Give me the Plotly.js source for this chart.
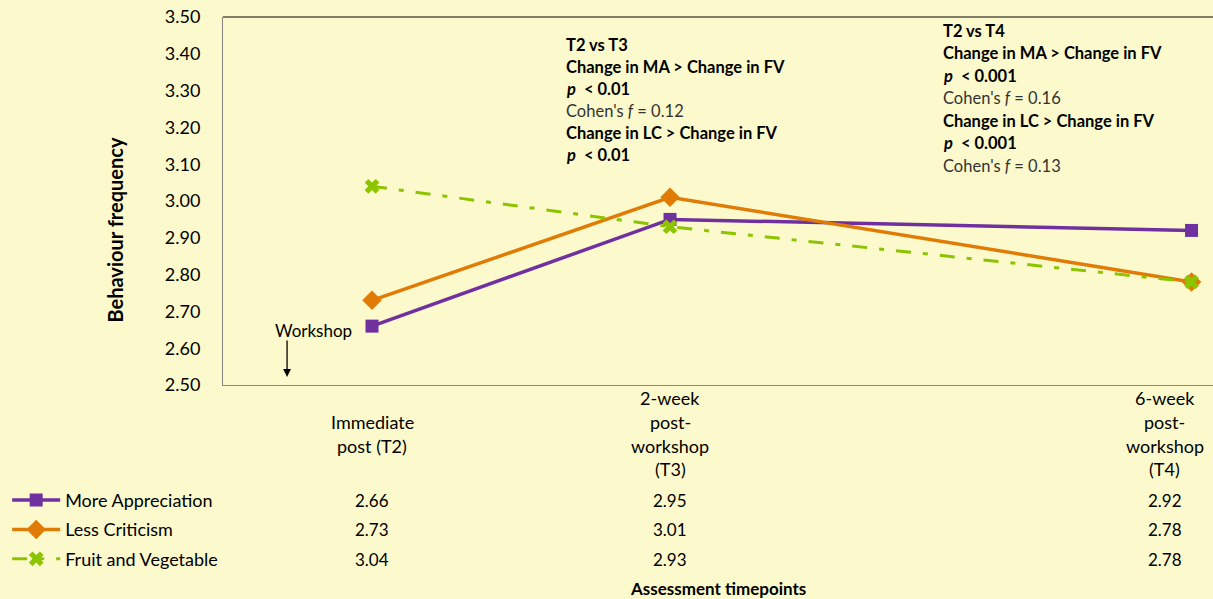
<!DOCTYPE html>
<html>
<head>
<meta charset="utf-8">
<script src="https://cdn.plot.ly/plotly-3.0.1.min.js"></script>
<style>
  html, body { margin: 0; padding: 0; background: #FCFACC; }
  #chart { width: 1213px; height: 599px; }
</style>
</head>
<body>
<div id="chart"></div>
<script>
// timepoints (x position reflects spacing in the original figure)
const timepoints = ['Immediate post (T2)', '2-week post-workshop (T3)', '6-week post-workshop (T4)'];
const timeLabels = [['Immediate', 'post (T2)'], ['2-week', 'post-', 'workshop', '(T3)'], ['6-week', 'post-', 'workshop', '(T4)']];
const xPos = [0, 1, 2.75];
// the data table's last column is pulled in to fit the figure edge
const tableCols = [0, 1, 2.66];

const seriesNames = ['More Appreciation', 'Less Criticism', 'Fruit and Vegetable'];
const moreAppreciation = [2.66, 2.95, 2.92];
const lessCriticism = [2.73, 3.01, 2.78];
const fruitVeg = [3.04, 2.93, 2.78];

const noteT3 = [
    '<b>T2 vs T3</b>',
    '<b>Change in MA &gt; Change in FV</b>',
    '<b><i>p</i>&nbsp; &lt; 0.01</b>',
    "Cohen's <i>f</i> = 0.12",
    '<b>Change in LC &gt; Change in FV</b>',
    '<b><i>p</i>&nbsp; &lt; 0.01</b>'
];
const noteT4 = [
    '<b>T2 vs T4</b>',
    '<b>Change in MA &gt; Change in FV</b>',
    '<b><i>p</i>&nbsp; &lt; 0.001</b>',
    "Cohen's <i>f</i> = 0.16",
    '<b>Change in LC &gt; Change in FV</b>',
    '<b><i>p</i>&nbsp; &lt; 0.001</b>',
    "Cohen's <i>f</i> = 0.13"
];

const FONT = 'Lato, "Open Sans", sans-serif';
const colors = ['#7030A0', '#E07B05', '#8CC400'];

const traces = [
    {
        x: xPos, y: moreAppreciation, name: seriesNames[0], legendgroup: 'a',
        type: 'scatter', mode: 'lines+markers',
        line: {color: colors[0], width: 3.5},
        marker: {symbol: 'square', size: 13, color: colors[0]}
    },
    {
        x: xPos, y: lessCriticism, name: seriesNames[1], legendgroup: 'b',
        type: 'scatter', mode: 'lines+markers',
        line: {color: colors[1], width: 3.5},
        marker: {symbol: 'diamond', size: 15, color: colors[1]}
    },
    {
        x: xPos, y: fruitVeg, name: seriesNames[2], legendgroup: 'c',
        type: 'scatter', mode: 'lines+markers',
        line: {color: colors[2], width: 3, dash: '15px,12px,5px,12px'},
        marker: {symbol: 'x', size: 13, color: colors[2]}
    }
];

let annotations = [];

// significance notes inside the plot
function addNote(lines, x, yTop, step) {
    lines.forEach((t, i) => {
        annotations.push({
            xref: 'x', yref: 'y', x: x, y: yTop - i * step,
            text: t, showarrow: false, xanchor: 'left', yanchor: 'middle',
            font: {family: FONT, size: 16.5, color: t.startsWith('<b>') ? '#000' : '#333'}
        });
    });
}
addNote(noteT3, 0.645, 3.424, 0.0598);
addNote(noteT4, 1.91, 3.462, 0.0611);

// workshop marker
annotations.push({
    xref: 'x', yref: 'y', x: -0.195, y: 2.647, text: 'Workshop', showarrow: false,
    font: {family: FONT, size: 17, color: '#000'}
});
annotations.push({
    xref: 'x', yref: 'y', axref: 'x', ayref: 'y',
    x: -0.285, y: 2.522, ax: -0.285, ay: 2.625, text: '',
    showarrow: true, arrowhead: 2, arrowsize: 1.2, arrowwidth: 1.3, arrowcolor: '#000'
});

// category labels (data table header)
timeLabels.forEach((lines, j) => {
    lines.forEach((t, i) => {
        annotations.push({
            xref: 'x', yref: 'paper', x: tableCols[j],
            y: -0.133 - (i - (lines.length - 1) / 2) * 0.0644,
            text: t, showarrow: false, xanchor: 'center', yanchor: 'middle',
            font: {family: FONT, size: 18, color: '#000'}
        });
    });
});

// data table values
[moreAppreciation, lessCriticism, fruitVeg].forEach((vals, r) => {
    vals.forEach((v, j) => {
        annotations.push({
            xref: 'x', yref: 'paper', x: tableCols[j], y: -0.3125 - r * 0.0802,
            text: v.toFixed(2), showarrow: false, xanchor: 'center', yanchor: 'middle',
            font: {family: FONT, size: 17, color: '#000'}
        });
    });
});

// axis titles
annotations.push({
    xref: 'paper', yref: 'paper', x: -0.109, y: 0.42, text: '<b>Behaviour frequency</b>',
    textangle: -90, showarrow: false, xanchor: 'center', yanchor: 'middle',
    font: {family: FONT, size: 20, color: '#000'}
});
annotations.push({
    xref: 'paper', yref: 'paper', x: 0.5, y: -0.554, text: '<b>Assessment timepoints</b>',
    showarrow: false, xanchor: 'center', yanchor: 'middle',
    font: {family: FONT, size: 17, color: '#000'}
});

let layout = {
    width: 1213,
    height: 599,
    margin: {l: 223, r: 0, t: 17, b: 214},
    paper_bgcolor: '#FCFACC',
    plot_bgcolor: '#FCFACC',
    showlegend: true,
    legend: {
        x: -0.218, xanchor: 'left', y: -0.263, yanchor: 'top',
        bgcolor: 'rgba(0,0,0,0)', tracegroupgap: 3, itemwidth: 48,
        font: {family: FONT, size: 18, color: '#000'}
    },
    xaxis: {
        range: [-0.5, 2.822], showticklabels: false, showgrid: false, zeroline: false,
        showline: true, linecolor: '#868686', linewidth: 1, ticks: ''
    },
    yaxis: {
        range: [2.5, 3.5], dtick: 0.1, tick0: 2.5, tickformat: '.2f',
        showgrid: false, zeroline: false, showline: true, linecolor: '#868686',
        ticks: '', ticklabelstandoff: 18,
        tickfont: {family: FONT, size: 18, color: '#000'}
    },
    shapes: [{
        type: 'line', xref: 'paper', yref: 'paper', x0: 0, x1: 1, y0: 1, y1: 1,
        line: {color: '#000', width: 1}
    }],
    annotations: annotations
};

let config = {
    displayModeBar: false,
    responsive: false
};

Plotly.newPlot('chart', traces, layout, config);
</script>
</body>
</html>
